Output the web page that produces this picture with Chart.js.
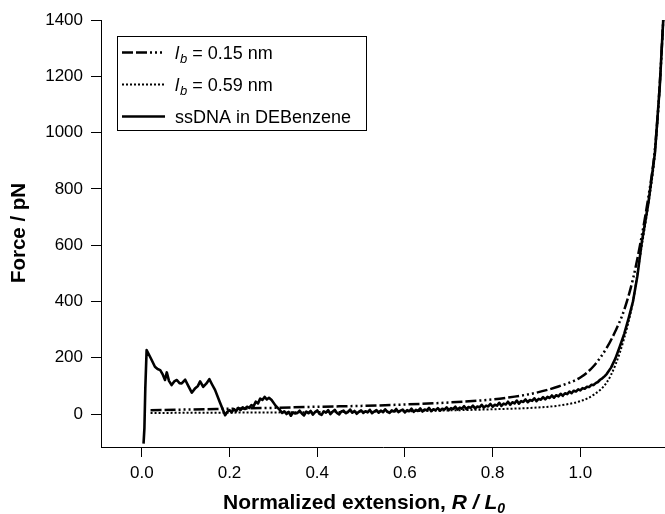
<!DOCTYPE html>
<html>
<head>
<meta charset="utf-8">
<script src="https://cdn.jsdelivr.net/npm/chart.js@4.4.1/dist/chart.umd.min.js"></script>
<style>
    html, body { margin: 0; padding: 0; background: #fff; }
    #wrap { width: 665px; height: 514px; }
</style>
</head>
<body>
<div id="wrap"><canvas id="forceChart" width="665" height="514"></canvas></div>
<script>
// Tick values
const xTicks = [0.0, 0.2, 0.4, 0.6, 0.8, 1.0];
const yTicks = [0, 200, 400, 600, 800, 1000, 1200, 1400];

const ssdnaX = [
    0.004, 0.006, 0.008, 0.011, 0.020, 0.030, 0.036, 0.042, 0.048, 0.053, 0.057, 0.062, 0.068, 0.074, 0.080,
    0.086, 0.091, 0.099, 0.106, 0.114, 0.122, 0.128, 0.133, 0.140, 0.147, 0.154, 0.160, 0.167, 0.178, 0.190,
    0.195, 0.200, 0.205, 0.210, 0.215, 0.220, 0.225, 0.230, 0.235, 0.240, 0.245, 0.250, 0.255, 0.260, 0.265,
    0.270, 0.275, 0.280, 0.285, 0.290, 0.296, 0.305, 0.315, 0.320, 0.325, 0.330, 0.335, 0.340, 0.345, 0.350,
    0.355, 0.360, 0.365, 0.370, 0.375, 0.380, 0.385, 0.390, 0.395, 0.400, 0.405, 0.410, 0.415, 0.420, 0.425,
    0.430, 0.435, 0.440, 0.445, 0.450, 0.455, 0.460, 0.465, 0.470, 0.475, 0.480, 0.485, 0.490, 0.495, 0.500,
    0.505, 0.510, 0.515, 0.520, 0.525, 0.530, 0.535, 0.540, 0.545, 0.550, 0.555, 0.560, 0.565, 0.570, 0.575,
    0.580, 0.585, 0.590, 0.595, 0.600, 0.605, 0.610, 0.615, 0.620, 0.625, 0.630, 0.635, 0.640, 0.645, 0.650,
    0.655, 0.660, 0.665, 0.670, 0.675, 0.680, 0.685, 0.690, 0.695, 0.700, 0.705, 0.710, 0.715, 0.720, 0.725,
    0.730, 0.735, 0.740, 0.745, 0.750, 0.755, 0.760, 0.765, 0.770, 0.775, 0.780, 0.785, 0.790, 0.795, 0.800,
    0.805, 0.810, 0.815, 0.820, 0.825, 0.830, 0.835, 0.840, 0.845, 0.850, 0.855, 0.860, 0.865, 0.870, 0.875,
    0.880, 0.885, 0.890, 0.895, 0.900, 0.905, 0.910, 0.915, 0.920, 0.925, 0.930, 0.935, 0.940, 0.945, 0.950,
    0.955, 0.960, 0.965, 0.970, 0.975, 0.980, 0.985, 0.990, 0.995, 1.000, 1.005, 1.010, 1.015, 1.020, 1.025,
    1.030, 1.035, 1.040, 1.045, 1.050, 1.055, 1.060, 1.070, 1.080, 1.090, 1.100, 1.110, 1.120, 1.130, 1.140,
    1.155, 1.170, 1.181, 1.189
];
const ssdnaY = [
    -105, -50, 90, 227, 200, 168, 160, 156, 140, 121, 148, 118, 103, 116, 121,
    110, 109, 122, 100, 76, 92, 100, 116, 97, 108, 124, 106, 86, 42, -4,
    8, 14, 6, 18, 10, 22, 14, 24, 18, 26, 22, 32, 28, 44, 38,
    55, 50, 61, 52, 58, 50, 30, 14, 4, 10, 0, 8, -6, 6, 2,
    4, 12, 2, -5, 9, 3, 11, -2, 7, 13, 1, -3, 10, 5, 14,
    0, 8, 15, 4, -1, 9, 12, 3, 7, 16, 5, 11, 1, 8, 13,
    4, 10, 6, 15, 3, 9, 14, 5, 12, 7, 17, 8, 4, 13, 9,
    18, 7, 12, 16, 6, 14, 10, 19, 8, 15, 11, 20, 9, 16, 13,
    22, 10, 17, 14, 21, 12, 19, 16, 24, 14, 21, 18, 26, 16, 23,
    19, 28, 18, 25, 22, 30, 20, 27, 24, 33, 23, 30, 27, 36, 26,
    33, 30, 40, 29, 37, 34, 44, 33, 42, 38, 48, 37, 46, 43, 52,
    42, 50, 47, 56, 46, 54, 51, 60, 52, 61, 57, 66, 58, 67, 63,
    72, 65, 74, 71, 80, 74, 83, 80, 88, 84, 92, 90, 97, 96, 104,
    103, 110, 114, 122, 127, 134, 142, 165, 198, 240, 285, 340, 400, 490, 610,
    749, 927, 1163, 1400
];

// Model curve, lb = 0.15 nm
const fit015X = [0.02, 0.1, 0.2, 0.3, 0.4, 0.5, 0.6, 0.7, 0.8, 0.85, 0.9, 0.95, 1.0, 1.03, 1.06, 1.08, 1.1, 1.12, 1.136, 1.155, 1.17, 1.181, 1.189];
const fit015Y = [14, 16, 19, 22, 26, 29, 34, 41, 52, 62, 76, 98, 130, 170, 235, 295, 370, 480, 600, 770, 940, 1170, 1400];

// Model curve, lb = 0.59 nm
const fit059X = [0.02, 0.2, 0.4, 0.6, 0.7, 0.8, 0.9, 0.95, 1.0, 1.03, 1.06, 1.08, 1.1, 1.12, 1.136, 1.155, 1.17, 1.181, 1.189];
const fit059Y = [4, 5, 7, 10, 13, 17, 23, 30, 46, 68, 112, 175, 270, 400, 560, 745, 925, 1160, 1400];

const toPoints = (xs, ys) => xs.map((x, i) => ({ x: x, y: ys[i] }));
const FONT = "'Liberation Sans', Arial, sans-serif";

const styles = {
    fit015: { dash: [11, 3, 11, 3, 2, 3, 2, 3, 2, 3], width: 2.5 },
    fit059: { dash: [2, 2], width: 2 },
    ssdna: { dash: [], width: 2.6 }
};

// Legend box + axis titles (mixed italic / subscript text)
const decorPlugin = {
    id: "decor",
    afterDraw(chart) {
        const ctx = chart.ctx;
        ctx.save();
        ctx.fillStyle = "#000";
        ctx.strokeStyle = "#000";

        // legend
        ctx.lineWidth = 1;
        ctx.strokeRect(117.5, 36.5, 249, 94);
        const rows = [
            { st: styles.fit015, sub: true, value: " = 0.15 nm" },
            { st: styles.fit059, sub: true, value: " = 0.59 nm" },
            { st: styles.ssdna, sub: false, value: "ssDNA in DEBenzene" }
        ];
        rows.forEach((row, i) => {
            const y = 52.5 + i * 32;
            ctx.setLineDash(row.st.dash);
            ctx.lineWidth = row.st.width;
            ctx.beginPath();
            ctx.moveTo(122, y);
            ctx.lineTo(165, y);
            ctx.stroke();
            ctx.setLineDash([]);
            ctx.textBaseline = "alphabetic";
            ctx.textAlign = "left";
            let x = 175;
            const base = y + 6.5;
            if (row.sub) {
                ctx.font = "italic 18px " + FONT;
                ctx.fillText("l", x, base);
                x += ctx.measureText("l").width + 1;
                ctx.font = "italic 13px " + FONT;
                ctx.fillText("b", x, base + 4);
                x += ctx.measureText("b").width;
            }
            ctx.font = "18px " + FONT;
            ctx.fillText(row.value, x, base);
        });

        // x axis title
        const partA = "Normalized extension, ";
        const partB = "R / L";
        ctx.font = "bold 21px " + FONT;
        const wA = ctx.measureText(partA).width;
        ctx.font = "italic bold 21px " + FONT;
        const wB = ctx.measureText(partB).width;
        ctx.font = "italic bold 14px " + FONT;
        const wC = ctx.measureText("0").width;
        let tx = 364 - (wA + wB + wC) / 2;
        const ty = 509;
        ctx.font = "bold 21px " + FONT;
        ctx.fillText(partA, tx, ty);
        tx += wA;
        ctx.font = "italic bold 21px " + FONT;
        ctx.fillText(partB, tx, ty);
        tx += wB;
        ctx.font = "italic bold 14px " + FONT;
        ctx.fillText("0", tx, ty + 4);

        // y axis title
        ctx.translate(19, 233);
        ctx.rotate(-Math.PI / 2);
        ctx.font = "bold 20.5px " + FONT;
        ctx.textAlign = "center";
        ctx.textBaseline = "middle";
        ctx.fillText("Force / pN", 0, 0);
        ctx.restore();
    }
};

const axisCommon = {
    type: "linear",
    grid: { display: true, drawOnChartArea: false, drawTicks: true, tickLength: 10, color: "#000", lineWidth: 1 },
    border: { display: true, color: "#000", width: 1 },
    title: { display: false }
};

new Chart(document.getElementById("forceChart"), {
    type: "scatter",
    data: {
        datasets: [
            {
                label: "lb = 0.15 nm",
                data: toPoints(fit015X, fit015Y),
                showLine: true,
                borderColor: "#000",
                borderWidth: styles.fit015.width,
                borderDash: styles.fit015.dash,
                cubicInterpolationMode: "monotone",
                pointRadius: 0
            },
            {
                label: "lb = 0.59 nm",
                data: toPoints(fit059X, fit059Y),
                showLine: true,
                borderColor: "#000",
                borderWidth: styles.fit059.width,
                borderDash: styles.fit059.dash,
                cubicInterpolationMode: "monotone",
                pointRadius: 0
            },
            {
                label: "ssDNA in DEBenzene",
                data: toPoints(ssdnaX, ssdnaY),
                showLine: true,
                borderColor: "#000",
                borderWidth: styles.ssdna.width,
                borderJoinStyle: "round",
                tension: 0,
                pointRadius: 0
            }
        ]
    },
    options: {
        responsive: false,
        animation: false,
        layout: { padding: { top: 20, left: 0, right: 0, bottom: 0 } },
        plugins: { legend: { display: false }, tooltip: { enabled: false } },
        scales: {
            x: {
                ...axisCommon,
                min: -0.093,
                max: 1.193,
                afterBuildTicks: (s) => { s.ticks = xTicks.map(v => ({ value: v })); },
                afterFit: (s) => { s.height = 67; },
                ticks: { color: "#000", font: { family: FONT, size: 17 }, padding: 6, maxRotation: 0, callback: (v) => Number(v).toFixed(1) }
            },
            y: {
                ...axisCommon,
                min: -117,
                max: 1400,
                afterBuildTicks: (s) => { s.ticks = yTicks.map(v => ({ value: v })); },
                afterFit: (s) => { s.width = 101; },
                ticks: { color: "#000", font: { family: FONT, size: 17 }, padding: 8, callback: (v) => String(v) }
            }
        }
    },
    plugins: [decorPlugin]
});
</script>
</body>
</html>
